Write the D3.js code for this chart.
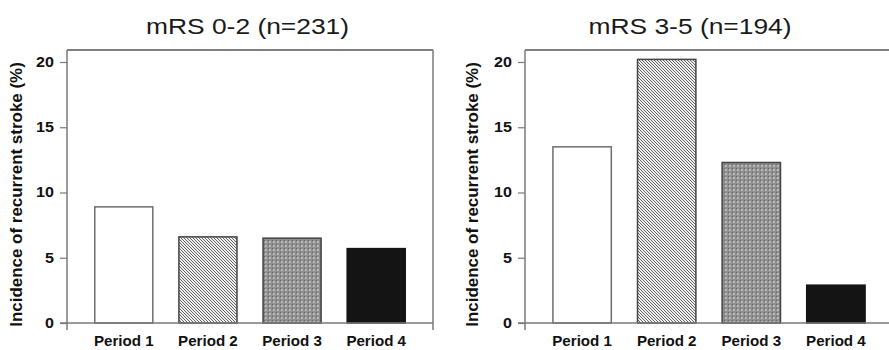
<!DOCTYPE html>
<html>
<head>
<meta charset="utf-8">
<script src="https://cdn.jsdelivr.net/npm/d3@7"></script>
<style>
  html, body { margin: 0; padding: 0; background: #fff; }
  svg { display: block; }
</style>
</head>
<body>
<svg id="chart" width="889" height="350"></svg>
<script>
// Incidence of recurrent stroke by period, split by mRS group
const periods = ["Period 1", "Period 2", "Period 3", "Period 4"];
const mrs02Values = [8.9, 6.6, 6.5, 5.7];
const mrs35Values = [13.5, 20.2, 12.3, 2.9];
const panelTitles = ["mRS 0-2 (n=231)", "mRS 3-5 (n=194)"];
const yTicks = [0, 5, 10, 15, 20];
const yLabel = "Incidence of recurrent stroke (%)";

const svg = d3.select("#chart");
const defs = svg.append("defs");
const FONT = "Liberation Sans, Arial, Helvetica, sans-serif";

// Diagonal hatch for period 2
const hatch = defs.append("pattern")
  .attr("id", "hatch").attr("patternUnits", "userSpaceOnUse")
  .attr("width", 3).attr("height", 3);
hatch.append("rect").attr("width", 3).attr("height", 3).attr("fill", "#f0f0f0");
hatch.append("path").attr("d", "M-1,-1 L4,4 M-1,2 L1,4 M2,-1 L4,1")
  .attr("stroke", "#555").attr("stroke-width", 0.9);

// Dotted grey grid for period 3
const dots = defs.append("pattern")
  .attr("id", "dots").attr("patternUnits", "userSpaceOnUse")
  .attr("width", 4).attr("height", 4);
dots.append("rect").attr("width", 4).attr("height", 4).attr("fill", "#8e8e8e");
dots.append("rect").attr("x", 1).attr("y", 1).attr("width", 2).attr("height", 2).attr("fill", "#b8b8b8");
dots.append("rect").attr("x", 0).attr("y", 0).attr("width", 1).attr("height", 1).attr("fill", "#6a6a6a");

const fills = ["#ffffff", "url(#hatch)", "url(#dots)", "#141414"];
const strokes = ["#6e6e6e", "#444", "#444", "#141414"];

const axisColor = "#7a7a7a";

// Widen glyphs along the text direction, anchored at the text's x position
function stretch(sel, sx) {
  sel.each(function () {
    const t = d3.select(this);
    const x = +t.attr("x") || 0;
    t.attr("x", 0).attr("transform", `translate(${x},0) scale(${sx},1)`);
  });
}

const panels = [
  { values: mrs02Values, title: panelTitles[0], left: 67, right: 433, titleX: 247.5, frameRight: true, labelX: 22 },
  { values: mrs35Values, title: panelTitles[1], left: 525, right: 893, titleX: 690, frameRight: false, labelX: 478 }
];

const frameTop = 50, plotBottom = 323;

panels.forEach(p => {
  const g = svg.append("g");

  const x = d3.scaleBand()
    .domain(periods)
    .range([p.left, p.right])
    .paddingInner(0.31)
    .paddingOuter(0.33);

  const y = d3.scaleLinear().domain([0, 20]).range([plotBottom, 62]);

  // Frame: top line and (left panel only) right line
  g.append("line").attr("x1", p.left).attr("x2", p.right).attr("y1", frameTop).attr("y2", frameTop)
    .attr("stroke", "#555").attr("stroke-width", 1.5);
  if (p.frameRight) {
    g.append("line").attr("x1", p.right).attr("x2", p.right).attr("y1", frameTop).attr("y2", plotBottom + 7)
      .attr("stroke", axisColor).attr("stroke-width", 1.5);
  }

  // Bars
  g.selectAll("rect.bar")
    .data(p.values)
    .join("rect")
    .attr("class", "bar")
    .attr("x", (d, i) => x(periods[i]))
    .attr("width", x.bandwidth())
    .attr("y", d => y(d))
    .attr("height", d => y(0) - y(d))
    .attr("fill", (d, i) => fills[i])
    .attr("stroke", (d, i) => strokes[i])
    .attr("stroke-width", 1.5);

  // Y axis
  const yAxis = d3.axisLeft(y).tickValues(yTicks).tickSize(7).tickPadding(6);
  const ya = g.append("g").attr("transform", `translate(${p.left},0)`).call(yAxis);
  ya.select(".domain").remove();
  ya.selectAll(".tick line").attr("stroke", axisColor).attr("stroke-width", 1.2);
  ya.selectAll(".tick text")
    .attr("fill", "#111").attr("font-family", FONT)
    .attr("font-size", 14).attr("font-weight", "bold")
    .call(stretch, 1.15);
  g.append("line").attr("x1", p.left).attr("x2", p.left).attr("y1", frameTop).attr("y2", plotBottom + 7)
    .attr("stroke", axisColor).attr("stroke-width", 1.5);

  // X axis
  const xAxis = d3.axisBottom(x).tickSize(0).tickPadding(13);
  const xa = g.append("g").attr("transform", `translate(0,${plotBottom})`).call(xAxis);
  xa.select(".domain").remove();
  xa.selectAll(".tick text")
    .attr("fill", "#111").attr("font-family", FONT)
    .attr("font-size", 14).attr("font-weight", "bold")
    .call(stretch, 1.08);
  g.append("line").attr("x1", p.left - 7).attr("x2", p.right).attr("y1", plotBottom).attr("y2", plotBottom)
    .attr("stroke", axisColor).attr("stroke-width", 1.5);

  // Title
  g.append("text")
    .attr("transform", `translate(${p.titleX},34) scale(1.2,1)`)
    .attr("text-anchor", "middle")
    .attr("font-family", FONT)
    .attr("font-size", 22).attr("fill", "#1a1a1a")
    .text(p.title);

  // Y label
  g.append("text")
    .attr("transform", `translate(${p.labelX},194.5) rotate(-90) scale(1.06,1)`)
    .attr("text-anchor", "middle")
    .attr("font-family", FONT)
    .attr("font-size", 16).attr("font-weight", "bold").attr("fill", "#111")
    .text(yLabel);
});
</script>
</body>
</html>
